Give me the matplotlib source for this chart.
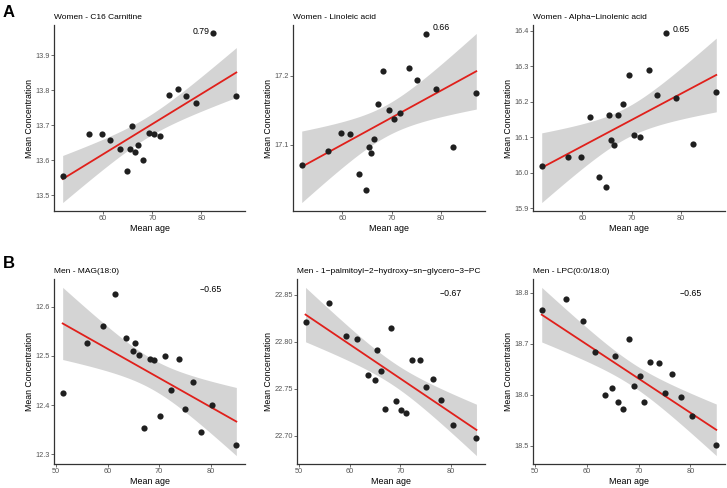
import numpy as np
import matplotlib
matplotlib.use("Agg")
import matplotlib.pyplot as plt
from matplotlib.ticker import FixedLocator, FormatStrFormatter

plt.rcParams['font.family'] = ['Liberation Sans', 'DejaVu Sans']

# ---------------- data ----------------
women_age = [51.8, 57.1, 59.8, 61.5, 63.4, 64.8, 65.4, 65.9, 66.5, 67.2,
             68.2, 69.4, 70.4, 71.6, 73.5, 75.2, 76.9, 78.9, 82.3, 87.1]
c16_carnitine = [13.555, 13.676, 13.676, 13.658, 13.632, 13.569, 13.632, 13.698, 13.622, 13.644,
                 13.601, 13.678, 13.674, 13.669, 13.786, 13.803, 13.782, 13.764, 13.962, 13.782]
linoleic_acid = [17.070, 17.091, 17.117, 17.1155, 17.0575, 17.0335, 17.097, 17.0875, 17.1085, 17.159,
                 17.2065, 17.150, 17.137, 17.1455, 17.212, 17.1945, 17.2605, 17.181, 17.096, 17.1755]
alpha_linolenic = [16.018, 16.045, 16.045, 16.157, 15.987, 15.961, 16.163, 16.093, 16.078, 16.162,
                   16.193, 16.277, 16.105, 16.102, 16.290, 16.220, 16.393, 16.211, 16.082, 16.228]

men_age = [51.3, 56.0, 59.2, 61.5, 63.6, 64.9, 65.4, 66.1, 67.0, 68.2,
           69.1, 70.2, 71.1, 72.3, 73.9, 75.1, 76.5, 78.1, 80.3, 85.0]
mag_18_0 = [12.4255, 12.527, 12.560, 12.626, 12.537, 12.510, 12.527, 12.502, 12.354, 12.494,
            12.491, 12.377, 12.499, 12.430, 12.494, 12.391, 12.446, 12.346, 12.400, 12.318]
palmitoyl_pc = [22.8204, 22.8411, 22.806, 22.8028, 22.765, 22.7596, 22.7909, 22.769, 22.728, 22.8148,
                22.737, 22.7273, 22.7238, 22.781, 22.781, 22.7521, 22.7606, 22.7378, 22.711, 22.698]
lpc_18_0 = [18.766, 18.788, 18.744, 18.683, 18.600, 18.614, 18.676, 18.586, 18.573, 18.710,
            18.617, 18.636, 18.585, 18.664, 18.663, 18.604, 18.640, 18.596, 18.559, 18.501]

titles = ["Women - C16 Carnitine", "Women - Linoleic acid", "Women - Alpha\u2212Linolenic acid",
          "Men - MAG(18:0)", "Men - 1\u2212palmitoyl\u22122\u2212hydroxy\u2212sn\u2212glycero\u22123\u2212PC",
          "Men - LPC(0:0/18:0)"]
corr_labels = ["0.79", "0.66", "0.65", "\u22120.65", "\u22120.67", "\u22120.65"]
corr_pos = [(80, 13.969), (80, 17.270), (80, 16.403), (80, 12.636), (80, 22.851), (80, 18.798)]
yticks = [[13.5, 13.6, 13.7, 13.8, 13.9], [17.1, 17.2], [15.9, 16.0, 16.1, 16.2, 16.3, 16.4],
          [12.3, 12.4, 12.5, 12.6], [22.70, 22.75, 22.80, 22.85], [18.5, 18.6, 18.7, 18.8]]
yfmt = ["%.1f", "%.1f", "%.1f", "%.1f", "%.2f", "%.1f"]
women_xticks = [60, 70, 80]
men_xticks = [50, 60, 70, 80]

panels = [(women_age, c16_carnitine), (women_age, linoleic_acid), (women_age, alpha_linolenic),
          (men_age, mag_18_0), (men_age, palmitoyl_pc), (men_age, lpc_18_0)]

# ---------------- layout ----------------
W, H = 727, 488
fig = plt.figure(figsize=(W / 100, H / 100), dpi=100)
rects_px = [(54, 25, 191, 186), (293, 25, 192, 186), (533, 25, 192, 186),
            (54, 279, 191, 185), (297, 279, 188, 185), (533, 279, 192, 185)]

T_CRIT = 2.1009  # 95% t quantile, df = 18

for i, ((x, y), (lx, ty, w, h)) in enumerate(zip(panels, rects_px)):
    ax = fig.add_axes([lx / W, 1 - (ty + h) / H, w / W, h / H])
    x = np.asarray(x); y = np.asarray(y)
    n = len(x)
    b, a = np.polyfit(x, y, 1)
    resid = y - (a + b * x)
    s = np.sqrt(np.sum(resid ** 2) / (n - 2))
    xbar = x.mean(); sxx = np.sum((x - xbar) ** 2)
    xg = np.linspace(x.min(), x.max(), 80)
    yg = a + b * xg
    se = s * np.sqrt(1 / n + (xg - xbar) ** 2 / sxx)
    ax.fill_between(xg, yg - T_CRIT * se, yg + T_CRIT * se, color='#d4d4d4', lw=0, zorder=1)
    ax.plot(xg, yg, color='#e0201b', lw=1.3, zorder=2)
    ax.scatter(x, y, s=20, color='#1f1f1f', lw=0, zorder=3)
    ax.margins(0.05)

    ax.text(corr_pos[i][0], corr_pos[i][1], corr_labels[i], ha='center', va='center',
            fontsize=6.3, color='black')
    ax.set_title(titles[i], loc='left', fontsize=6.0, pad=4.6)
    ax.set_xlabel("Mean age", fontsize=6.4, labelpad=1.2)
    ax.set_ylabel("Mean Concentration", fontsize=6.3, labelpad=1.2)

    ax.xaxis.set_major_locator(FixedLocator(women_xticks if i < 3 else men_xticks))
    ax.yaxis.set_major_locator(FixedLocator(yticks[i]))
    ax.yaxis.set_major_formatter(FormatStrFormatter(yfmt[i]))
    ax.tick_params(labelsize=5.3, colors='#555555', length=2, width=0.6, pad=1.0)
    for sp in ['top', 'right']:
        ax.spines[sp].set_visible(False)
    for sp in ['left', 'bottom']:
        ax.spines[sp].set_color('#333333')
        ax.spines[sp].set_linewidth(0.9)

fig.text(3 / W, 1 - 5 / H, "A", fontsize=12, fontweight='bold', va='top', ha='left')
fig.text(3 / W, 1 - 256 / H, "B", fontsize=12, fontweight='bold', va='top', ha='left')

fig.savefig("out.png", dpi=100)
